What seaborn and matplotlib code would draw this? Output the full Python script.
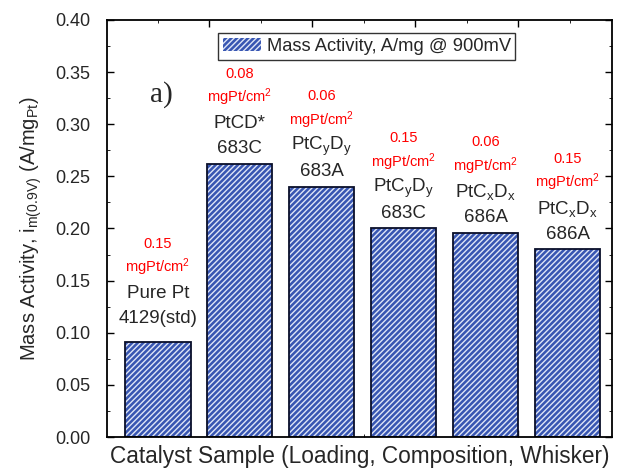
import numpy as np
import pandas as pd
import matplotlib
matplotlib.use("Agg")
import matplotlib.pyplot as plt
import seaborn as sns
from matplotlib.patches import Patch

# --- data ---
samples = ["4129(std)", "683C*", "683A", "683C", "686A", "686A "]
names = ["Pure Pt", "PtCD*", "PtC$_y$D$_y$", "PtC$_y$D$_y$", "PtC$_x$D$_x$", "PtC$_x$D$_x$"]
codes = ["4129(std)", "683C", "683A", "683C", "686A", "686A"]
loadings = ["0.15", "0.08", "0.06", "0.15", "0.06", "0.15"]
mass_activity = [0.091, 0.262, 0.240, 0.200, 0.196, 0.180]

df = pd.DataFrame({"sample": samples, "activity": mass_activity})

sns.set_style("ticks")
plt.rcParams["font.family"] = ["Liberation Sans", "DejaVu Sans"]
plt.rcParams["mathtext.default"] = "regular"
plt.rcParams["hatch.linewidth"] = 1.0

BLUE = "#3856b2"

fig = plt.figure(figsize=(6.18, 4.75), dpi=100)
ax = fig.add_axes([0.173, 0.080, 0.817, 0.878])

# hatched fill (white diagonal lines) then a black outline on top
sns.barplot(data=df, x="sample", y="activity", color=BLUE, saturation=1,
            edgecolor="#dfe6f7", hatch="//////", linewidth=0, width=0.8, ax=ax)
sns.barplot(data=df, x="sample", y="activity", fill=False,
            edgecolor="#0a0f2a", linewidth=1.3, width=0.8, ax=ax)

ax.set_xlim(-0.62, 5.54)
ax.set_ylim(0, 0.40)

# labels above each bar (offsets in points from the bar top)
extra = [6, 0, 0, 0, 0, 0]
for i, val in enumerate(mass_activity):
    ax.annotate(codes[i], (i, val), xytext=(0, 11 + extra[i]), textcoords="offset points",
                ha="center", va="center", fontsize=13.5)
    ax.annotate(names[i], (i, val), xytext=(0, 29 + extra[i]), textcoords="offset points",
                ha="center", va="center", fontsize=13.5)
    ax.annotate("mgPt/cm$^2$", (i, val), xytext=(0, 48 + extra[i]), textcoords="offset points",
                ha="center", va="center", fontsize=10.5, color="red")
    ax.annotate(loadings[i], (i, val), xytext=(0, 65 + extra[i]), textcoords="offset points",
                ha="center", va="center", fontsize=10.5, color="red")

ax.text(0.085, 0.82, "a)", transform=ax.transAxes, fontsize=21,
        family=["Liberation Serif", "DejaVu Serif"], ha="left", va="center")

# axes styling
ax.set_yticks(np.arange(0, 0.401, 0.05))
ax.set_yticks(np.arange(0, 0.401, 0.025), minor=True)
ax.set_yticklabels([f"{v:.2f}" for v in np.arange(0, 0.401, 0.05)])
ax.set_xticks(np.arange(0.63, 5.5, 1.256))
ax.set_xticks(np.arange(0.0, 5.5, 1.256), minor=True)
ax.set_xticklabels([])
ax.tick_params(which="both", direction="in", top=True, right=True, color="black")
ax.tick_params(which="major", length=5, width=1.0, labelsize=13)
ax.tick_params(axis="y", which="major", pad=12)
ax.tick_params(axis="x", which="major", pad=0)
for s in ax.spines.values():
    s.set_linewidth(1.3)
    s.set_color("black")

ax.set_xlabel("Catalyst Sample (Loading, Composition, Whisker)", fontsize=16.3, labelpad=2)
ax.set_ylabel("Mass Activity, i$_{m(0.9V)}$ (A/mg$_{Pt}$)", fontsize=14.5, labelpad=8)

handle = Patch(facecolor=BLUE, edgecolor="#dfe6f7", hatch="//////", linewidth=0)
leg = ax.legend([handle], ["Mass Activity, A/mg @ 900mV"], loc="upper left",
                bbox_to_anchor=(0.22, 0.968), frameon=True, fancybox=False,
                edgecolor="black", fontsize=13.2, handlelength=2.1, handleheight=0.75,
                borderpad=0.25, handletextpad=0.3, borderaxespad=0)
leg.get_frame().set_linewidth(1.0)

fig.savefig("out.png", dpi=100)
